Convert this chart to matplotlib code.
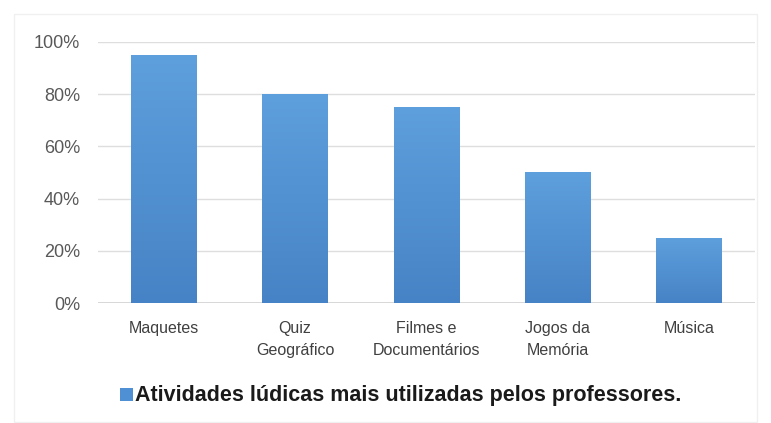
import numpy as np
import matplotlib
matplotlib.use("Agg")
import matplotlib.pyplot as plt
from matplotlib.colors import LinearSegmentedColormap
from matplotlib.patches import Rectangle

categorias = ["Maquetes", "Quiz\nGeográfico", "Filmes e\nDocumentários", "Jogos da\nMemória", "Música"]
valores = [0.95, 0.80, 0.75, 0.50, 0.25]
yticks = [0, 0.2, 0.4, 0.6, 0.8, 1.0]
ytick_labels = ["0%", "20%", "40%", "60%", "80%", "100%"]
legenda = "Atividades lúdicas mais utilizadas pelos professores."

plt.rcParams["font.family"] = ["Liberation Sans", "DejaVu Sans"]

fig = plt.figure(figsize=(7.71, 4.23), dpi=100)
ax = fig.add_axes([98 / 771, 1 - 303 / 423, (755 - 98) / 771, (303 - 42) / 423])

x = np.arange(len(categorias))
bars = ax.bar(x, valores, width=0.5, color="#4f8fd3", zorder=2)

# gradiente vertical nas barras (mais claro em cima)
cmap = LinearSegmentedColormap.from_list("g", ["#4683c6", "#5e9fdd"])
grad = np.linspace(0, 1, 256).reshape(-1, 1)
for b in bars:
    x0, y0 = b.get_x(), b.get_y()
    w, h = b.get_width(), b.get_height()
    im = ax.imshow(grad, cmap=cmap, origin="lower", aspect="auto",
                   extent=[x0, x0 + w, y0, y0 + h], zorder=3)
    im.set_clip_path(b)

ax.set_xlim(-0.5, len(categorias) - 0.5)
ax.set_ylim(0, 1)
ax.set_yticks(yticks)
ax.set_yticklabels(ytick_labels)
ax.set_xticks(x)
ax.set_xticklabels(categorias, linespacing=1.55)
ax.tick_params(axis="y", length=0, pad=13, labelsize=13, labelcolor="#595959")
ax.tick_params(axis="x", length=0, pad=13, labelsize=11.5, labelcolor="#404040")
ax.grid(axis="y", color="#dedede", linewidth=1, zorder=0)
ax.axhline(0, color="#d0d0d0", linewidth=1.2, zorder=1)
for s in ax.spines.values():
    s.set_visible(False)

# legenda
fig.patches.append(Rectangle((120 / 771, 1 - 401 / 423), 13 / 771, 13 / 423,
                             transform=fig.transFigure, facecolor="#4f8fd3",
                             edgecolor="none"))
fig.text(135 / 771, 1 - 395 / 423, legenda, fontsize=15.5, fontweight="bold",
         color="#1a1a1a", va="center", ha="left")

# moldura clara do gráfico
fig.patches.append(Rectangle((14 / 771, 1 - 422 / 423), (757 - 14) / 771, (422 - 14) / 423,
                             transform=fig.transFigure, facecolor="none",
                             edgecolor="#f0f0f0", linewidth=1))

fig.savefig("out.png", dpi=100)
